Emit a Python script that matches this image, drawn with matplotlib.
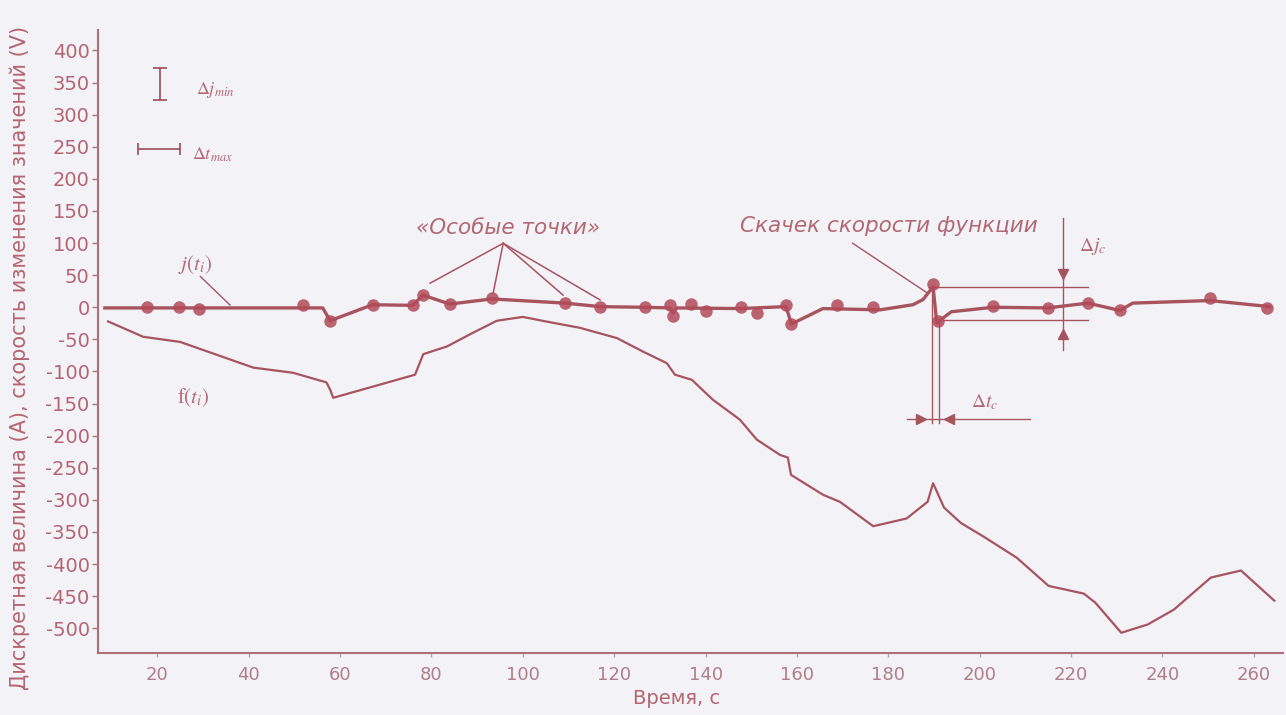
import matplotlib
matplotlib.use('Agg')
import matplotlib.pyplot as plt

# ---------------- data ----------------
f_t = [9.2, 16.9, 25.0, 41.0, 49.7, 57.0, 57.8, 58.5, 76.4, 78.2, 83.4, 89.0, 94.3,
       100.0, 105.0, 112.5, 120.6, 126.3, 131.5, 133.3, 137.0, 141.6, 147.5, 151.2,
       156.3, 158.0, 158.7, 165.7, 169.4, 176.7, 184.0, 188.6, 189.8, 192.2, 195.9,
       200.8, 208.1, 215.1, 222.8, 225.3, 231.0, 236.8, 242.5, 250.6, 257.2, 264.5]
f_v = [-22, -46, -54, -94, -102, -117, -128, -141, -105, -73, -61, -40, -21,
       -15, -22, -32, -48, -69, -87, -105, -113, -144, -175, -206,
       -230, -234, -261, -292, -303, -341, -329, -303, -274, -312, -336,
       -357, -390, -434, -446, -460, -507, -494, -471, -421, -410, -457]

j_t = [8.5, 56.2, 57.8, 67.1, 75.9, 78.1, 84.0, 93.2, 109.2, 116.9, 126.7, 132.2,
       132.9, 133.7, 147.5, 157.6, 158.8, 165.7, 178.2, 185.4, 187.6, 189.8, 190.6,
       193.8, 202.9, 214.9, 223.7, 230.7, 233.5, 250.4, 263.5]
j_v = [-1, -1, -21, 4, 3, 19, 5, 13, 6.5, 1, 0, -1,
       -9, -1, -2, 1, -26, -2, -4, 4, 12, 32, -24,
       -7, 0, -1, 6.5, -5, 6.5, 10.5, 1]

pt_t = [17.7, 24.8, 29.0, 51.9, 57.8, 67.1, 76.0, 78.2, 84.0, 93.2, 109.2, 116.9,
        126.7, 132.2, 132.9, 136.9, 140.1, 147.7, 151.2, 157.7, 158.8, 168.7, 176.7,
        189.8, 190.9, 203.0, 215.0, 223.7, 230.7, 250.4, 262.8]
pt_v = [0, 1, -2, 3, -21, 4, 3, 19, 5, 14, 6.5, 1,
        0, 3, -14, 5, -6.5, 1, -9, 4, -26, 3, 0,
        37, -22, 2, -1, 6.5, -4, 14, -1]

x_ticks = list(range(20, 261, 20))
y_ticks = list(range(-500, 401, 50))

ylabel_text = "Дискретная величина (A), скорость изменения значений (V)"
xlabel_text = "Время, с"

# ---------------- style ----------------
BG = '#f3f2f6'
LINE = '#a8545f'
MARK = '#b24a5a'
TXT = '#b5656f'
XTXT = '#b07e88'
ANN = '#b26872'

plt.rcParams['font.family'] = ['DejaVu Sans']
plt.rcParams['mathtext.fontset'] = 'stix'
plt.rcParams['axes.unicode_minus'] = False

fig = plt.figure(figsize=(12.86, 7.15), dpi=100, facecolor=BG)
ax = fig.add_axes([98/1286, 62/715, 1185/1286, 623/715], facecolor=BG)

ax.set_xlim(7.0, 266.4)
ax.set_ylim(-538.5, 431.9)

ax.plot(f_t, f_v, color=LINE, lw=1.6, zorder=2)
ax.plot(j_t, j_v, color=LINE, lw=2.4, zorder=3)
ax.plot(pt_t, pt_v, 'o', color=MARK, ms=9, alpha=0.85, mec='none', zorder=4)

# spines / ticks
for s in ['top', 'right']:
    ax.spines[s].set_visible(False)
for s in ['left', 'bottom']:
    ax.spines[s].set_color('#b06f78')
    ax.spines[s].set_linewidth(1.5)
ax.set_xticks(x_ticks)
ax.set_yticks(y_ticks)
ax.tick_params(axis='y', colors='#b06f78', labelcolor=TXT, labelsize=14,
               length=4, width=1.0, pad=2)
ax.tick_params(axis='x', colors='#c0a0a8', labelcolor=XTXT, labelsize=13,
               length=3, width=1.0, pad=6)

fig.text(20/1286, 1 - 358/715, ylabel_text, rotation=90, ha='center', va='center',
         fontsize=15, color=TXT)
fig.text(677/1286, 1 - 698/715, xlabel_text, ha='center', va='center',
         fontsize=14, color=TXT)

# ---------------- annotations ----------------
# scale symbols
ax.errorbar([20.6], [348], yerr=[25], color='#a05862', capsize=5, lw=1.3, capthick=1.3)
ax.text(28.5, 339, r'$\Delta j_{min}$', fontsize=13, color=ANN, va='center', ha='left')
ax.errorbar([20.4], [246], xerr=[4.6], color='#a05862', capsize=4.5, lw=1.3, capthick=1.3)
ax.text(27.5, 237, r'$\Delta t_{max}$', fontsize=13, color=ANN, va='center', ha='left')

# j(t_i) and f(t_i) labels
ax.text(28.2, 66, r'$j(t_i)$', fontsize=15, color=ANN, ha='center', va='center')
ax.plot([29.4, 35.9], [48, 3.5], color=LINE, lw=1.0)
ax.text(27.8, -140, r'$\mathrm{f}(t_i)$', fontsize=15, color=ANN, ha='center', va='center')

# "special points"
ax.text(96.7, 124, '«Особые точки»', fontsize=15.5, style='italic', color=ANN,
        ha='center', va='center')
apex = (95.7, 99.7)
for tx, ty in [(79.7, 37.5), (93.5, 22), (108.8, 19), (116.9, 11.5)]:
    ax.plot([apex[0], tx], [apex[1], ty], color=LINE, lw=1.1)

# velocity jump
ax.text(180.1, 127, 'Скачек скорости функции', fontsize=15.5, style='italic',
        color=ANN, ha='center', va='center')
ax.plot([172.2, 188.6], [99.7, 22], color=LINE, lw=1.0)

# delta j_c dimension
ax.plot([189.0, 223.7], [32, 32], color=LINE, lw=1.0)
ax.plot([192.0, 223.7], [-20.5, -20.5], color=LINE, lw=1.0)
ax.plot([218.3, 218.3], [139, -66], color=LINE, lw=1.0)
ax.plot([218.3], [52], marker='v', color=LINE, ms=7)
ax.plot([218.3], [-42], marker='^', color=LINE, ms=7)
ax.text(221.8, 94, r'$\Delta j_c$', fontsize=14, color=ANN, ha='left', va='center')

# delta t_c dimension
ax.plot([189.5, 189.5], [32, -180.6], color=LINE, lw=1.0)
ax.plot([191.1, 191.1], [-22, -180.6], color=LINE, lw=1.0)
ax.plot([184.0, 211.0], [-174.5, -174.5], color=LINE, lw=1.0)
ax.plot([187.2], [-174.5], marker='>', color=LINE, ms=7)
ax.plot([193.3], [-174.5], marker='<', color=LINE, ms=7)
ax.text(198.2, -147, r'$\Delta t_c$', fontsize=14, color=ANN, ha='left', va='center')

fig.savefig('out.png', dpi=100, facecolor=BG)
